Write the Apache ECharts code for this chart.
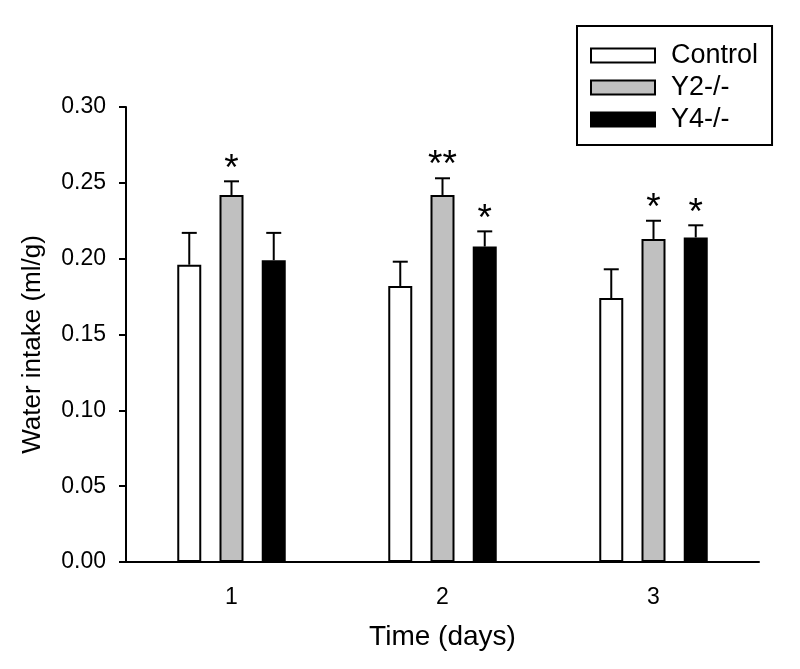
<!DOCTYPE html>
<html>
<head>
<meta charset="utf-8">
<script src="https://cdn.jsdelivr.net/npm/echarts@6/dist/echarts.min.js"></script>
<style>html,body{margin:0;padding:0;background:#fff}#chart{width:800px;height:669px}</style>
</head>
<body>
<div id="chart"></div>
<script>
const days = ['1', '2', '3'];
const seriesNames = ['Control', 'Y2-/-', 'Y4-/-'];
const controlMean = [0.196, 0.182, 0.174];
const controlErr = [0.021, 0.016, 0.019];
const y2Mean = [0.242, 0.242, 0.213];
const y2Err = [0.009, 0.011, 0.012];
const y4Mean = [0.199, 0.208, 0.214];
const y4Err = [0.018, 0.010, 0.008];
const controlSig = ['', '', ''];
const y2Sig = ['*', '**', '*'];
const y4Sig = ['', '*', '*'];
const yTicks = [0, 0.05, 0.10, 0.15, 0.20, 0.25, 0.30];

const FONT = 'Liberation Sans, Arial, sans-serif';
const fills = ['#ffffff', '#c0c0c0', '#000000'];
const BAR_W = 24;
const GAP = 0.76;
const spacing = BAR_W * (1 + GAP);

const means = [controlMean, y2Mean, y4Mean];
const errs = [controlErr, y2Err, y4Err];
const sigs = [controlSig, y2Sig, y4Sig];

const chart = echarts.init(document.getElementById('chart'), null, {renderer: 'canvas'});

const barSeries = seriesNames.map((name, i) => ({
  name: name,
  type: 'bar',
  data: means[i],
  barWidth: BAR_W,
  barGap: (GAP * 100) + '%',
  itemStyle: {color: fills[i], borderColor: '#000', borderWidth: 2},
  emphasis: {disabled: true},
  z: 2
}));

const errSeries = seriesNames.map((name, i) => ({
  name: name + ' err',
  type: 'custom',
  data: means[i].map((m, k) => [k, m, m + errs[i][k]]),
  encode: {x: 0, y: [1, 2]},
  z: 3,
  silent: true,
  renderItem: function (params, api) {
    const off = (i - 1) * spacing;
    const base = api.coord([api.value(0), api.value(1)]);
    const top = api.coord([api.value(0), api.value(2)]);
    const x = base[0] + off;
    const sig = sigs[i][api.value(0)];
    const children = [
      {type: 'line', shape: {x1: x, y1: base[1], x2: x, y2: top[1]}, style: {stroke: '#000', lineWidth: 2}},
      {type: 'line', shape: {x1: x - 7.5, y1: top[1], x2: x + 7.5, y2: top[1]}, style: {stroke: '#000', lineWidth: 2}}
    ];
    if (sig) {
      children.push({type: 'text', style: {text: sig, x: x, y: top[1] - 12, align: 'center', verticalAlign: 'middle', font: '37px ' + FONT, fill: '#000'}});
    }
    return {type: 'group', children: children};
  }
}));

chart.setOption({
  backgroundColor: '#fff',
  animation: false,
  grid: {left: 126, right: 41, top: 107, bottom: 107, containLabel: false},
  legend: {
    data: seriesNames,
    orient: 'vertical',
    icon: 'rect',
    left: 577,
    top: 26,
    padding: [16, 14, 12, 13],
    borderColor: '#000',
    borderWidth: 2,
    itemWidth: 64,
    itemHeight: 14,
    itemGap: 5,
    selectedMode: false,
    itemStyle: {borderColor: '#000', borderWidth: 2},
    textStyle: {fontFamily: FONT, fontSize: 27, color: '#000', lineHeight: 27, padding: [0, 0, 0, 11]}
  },
  xAxis: {
    type: 'category',
    data: days,
    name: 'Time (days)',
    nameLocation: 'middle',
    nameGap: 61,
    nameTextStyle: {fontFamily: FONT, fontSize: 28, color: '#000'},
    axisLine: {lineStyle: {color: '#000', width: 2}},
    axisTick: {alignWithLabel: true, length: 7, lineStyle: {color: '#000', width: 2}},
    axisLabel: {fontFamily: FONT, fontSize: 23, color: '#000', margin: 24}
  },
  yAxis: {
    type: 'value',
    min: yTicks[0],
    max: yTicks[yTicks.length - 1],
    interval: 0.05,
    name: 'Water intake (ml/g)',
    nameLocation: 'middle',
    nameGap: 80,
    nameTextStyle: {fontFamily: FONT, fontSize: 26, color: '#000', padding: [0, 20, 0, 0]},
    axisLine: {show: true, lineStyle: {color: '#000', width: 2}},
    axisTick: {show: true, length: 7, lineStyle: {color: '#000', width: 2}},
    splitLine: {show: false},
    axisLabel: {fontFamily: FONT, fontSize: 23, color: '#000', margin: 20, formatter: v => v.toFixed(2)}
  },
  series: barSeries.concat(errSeries)
});
</script>
</body>
</html>
